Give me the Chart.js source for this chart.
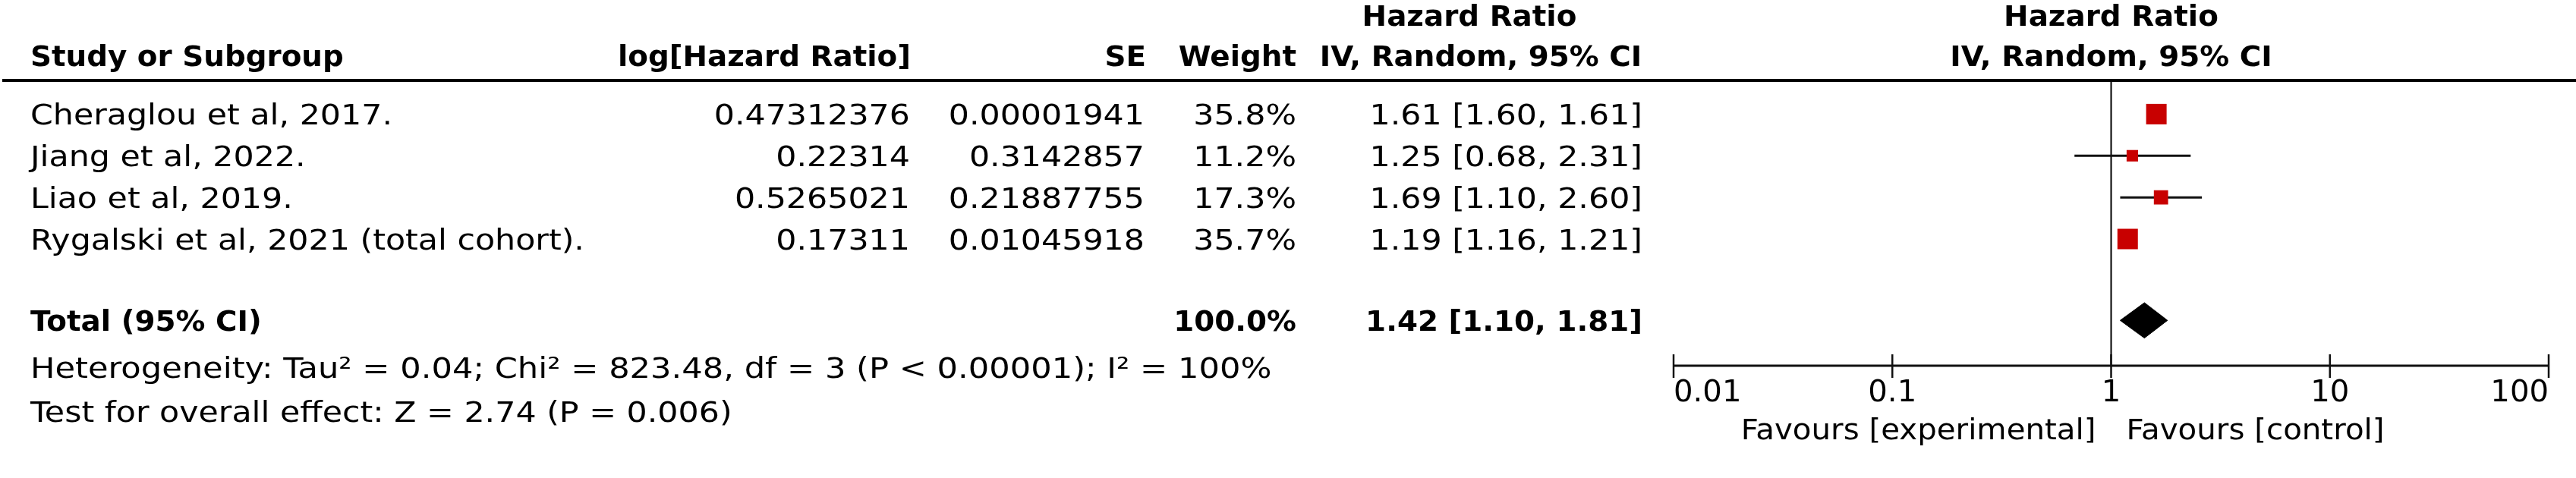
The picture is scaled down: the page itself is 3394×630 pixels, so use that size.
<!DOCTYPE html>
<html>
<head>
<meta charset="utf-8">
<script src="https://cdn.jsdelivr.net/npm/chart.js@4.4.1/dist/chart.umd.min.js"></script>
<style>
  html, body { margin: 0; padding: 0; background: #ffffff; }
  #wrap { width: 3394px; height: 630px; }
  canvas { display: block; }
</style>
</head>
<body>
<div id="wrap"><canvas id="c" width="3394" height="630"></canvas></div>
<script>
// ---------------- DATA ----------------
const studies = ['Cheraglou et al, 2017.', 'Jiang et al, 2022.', 'Liao et al, 2019.', 'Rygalski et al, 2021 (total cohort).'];
const logHR = ['0.47312376', '0.22314', '0.5265021', '0.17311'];
const seVals = ['0.00001941', '0.3142857', '0.21887755', '0.01045918'];
const weights = [35.8, 11.2, 17.3, 35.7];
const hr = [1.61, 1.25, 1.69, 1.19];
const ciLow = [1.60, 0.68, 1.10, 1.16];
const ciHigh = [1.61, 2.31, 2.60, 1.21];
const totalWeight = 100.0;
const totalHR = 1.42;
const totalLow = 1.10;
const totalHigh = 1.81;
const tickValues = [0.01, 0.1, 1, 10, 100];
const tickLabels = ['0.01', '0.1', '1', '10', '100'];
const heterogeneityText = 'Heterogeneity: Tau\u00B2 = 0.04; Chi\u00B2 = 823.48, df = 3 (P < 0.00001); I\u00B2 = 100%';
const overallText = 'Test for overall effect: Z = 2.74 (P = 0.006)';
const favoursLeft = 'Favours [experimental]';
const favoursRight = 'Favours [control]';

// ---------------- STYLE / LAYOUT CONSTANTS ----------------
const FONT = '"DejaVu Sans", Verdana, sans-serif';
const RED = '#C80000';
const MAX_SQ = 27;          // side of the largest square (px)
const TOTAL_ROW = 4.955;    // row index of the pooled estimate
const DIAMOND_HALF = 0.425; // half height of diamond in row units
const HEADER_LINE_Y = 106;
const AXIS_Y = 482;
const maxW = Math.max(...weights);

function fmt2(v) { return v.toFixed(2); }

const ciDatasets = studies.map((s, i) => ({
  label: 'ci' + i,
  data: [{ x: ciLow[i], y: i }, { x: ciHigh[i], y: i }],
  showLine: true,
  borderColor: '#111111',
  borderWidth: 3,
  pointRadius: 0,
  order: 2
}));

const squareDataset = {
  label: 'estimates',
  data: hr.map((v, i) => ({ x: v, y: i })),
  pointStyle: 'rect',
  pointRadius: weights.map(w => MAX_SQ * Math.sqrt(w / maxW) / Math.SQRT2),
  pointBackgroundColor: RED,
  pointBorderWidth: 0,
  showLine: false,
  order: 0
};

const diamondDataset = {
  label: 'total',
  data: [
    { x: totalLow, y: TOTAL_ROW },
    { x: totalHR, y: TOTAL_ROW - DIAMOND_HALF },
    { x: totalHigh, y: TOTAL_ROW },
    { x: totalHR, y: TOTAL_ROW + DIAMOND_HALF },
    { x: totalLow, y: TOTAL_ROW }
  ],
  showLine: true,
  fill: 'shape',
  backgroundColor: '#000000',
  borderColor: '#000000',
  borderWidth: 1,
  pointRadius: 0,
  tension: 0,
  order: 1
};

function txt(ctx, s, x, y, opts) {
  const o = Object.assign({ align: 'left', bold: false, size: 37, k: null }, opts || {});
  const k = o.k != null ? o.k : (o.bold ? 1.05 : 1.155);
  ctx.save();
  ctx.font = (o.bold ? 'bold ' : '') + o.size + 'px ' + FONT;
  ctx.fillStyle = '#000000';
  ctx.textAlign = o.align;
  ctx.textBaseline = 'middle';
  ctx.translate(x, y);
  ctx.scale(k, 1);
  ctx.fillText(s, 0, 0);
  ctx.restore();
}

const forestPlugin = {
  id: 'forest',
  beforeDatasetsDraw(chart) {
    const ctx = chart.ctx;
    const xs = chart.scales.x;
    const x1 = xs.getPixelForValue(1);
    ctx.save();
    ctx.strokeStyle = '#000000';
    ctx.lineWidth = 2;
    ctx.beginPath();
    ctx.moveTo(x1, HEADER_LINE_Y);
    ctx.lineTo(x1, AXIS_Y);
    ctx.stroke();
    ctx.restore();
  },
  afterDatasetsDraw(chart) {
    const ctx = chart.ctx;
    const xs = chart.scales.x;
    const ys = chart.scales.y;

    // header rule
    ctx.save();
    ctx.fillStyle = '#000000';
    ctx.fillRect(3, HEADER_LINE_Y - 2, 3394 - 3, 4);
    ctx.restore();

    // headers
    const x1 = xs.getPixelForValue(1);
    txt(ctx, 'Hazard Ratio', 1936, 24, { align: 'center', bold: true });
    txt(ctx, 'Hazard Ratio', x1, 24, { align: 'center', bold: true });
    txt(ctx, 'Study or Subgroup', 40, 77, { bold: true });
    txt(ctx, 'log[Hazard Ratio]', 1200, 77, { align: 'right', bold: true });
    txt(ctx, 'SE', 1510, 77, { align: 'right', bold: true });
    txt(ctx, 'Weight', 1708, 77, { align: 'right', bold: true });
    txt(ctx, 'IV, Random, 95% CI', 1951, 77, { align: 'center', bold: true });
    txt(ctx, 'IV, Random, 95% CI', x1, 77, { align: 'center', bold: true });

    // study rows
    studies.forEach((s, i) => {
      const y = ys.getPixelForValue(i) + 4;
      txt(ctx, s, 40, y);
      txt(ctx, logHR[i], 1199, y, { align: 'right' });
      txt(ctx, seVals[i], 1508, y, { align: 'right' });
      txt(ctx, weights[i].toFixed(1) + '%', 1708, y, { align: 'right' });
      txt(ctx, fmt2(hr[i]) + ' [' + fmt2(ciLow[i]) + ', ' + fmt2(ciHigh[i]) + ']', 2164, y, { align: 'right' });
    });

    // total row
    const yt = ys.getPixelForValue(TOTAL_ROW) + 4;
    txt(ctx, 'Total (95% CI)', 40, yt, { bold: true });
    txt(ctx, totalWeight.toFixed(1) + '%', 1708, yt, { align: 'right', bold: true });
    txt(ctx, fmt2(totalHR) + ' [' + fmt2(totalLow) + ', ' + fmt2(totalHigh) + ']', 2164, yt, { align: 'right', bold: true });

    txt(ctx, heterogeneityText, 40, 488, { k: 1.167 });
    txt(ctx, overallText, 40, 546);

    // axis
    const xa = xs.getPixelForValue(tickValues[0]);
    const xb = xs.getPixelForValue(tickValues[tickValues.length - 1]);
    ctx.save();
    ctx.strokeStyle = '#111111';
    ctx.lineWidth = 3;
    ctx.beginPath();
    ctx.moveTo(xa, AXIS_Y);
    ctx.lineTo(xb, AXIS_Y);
    ctx.stroke();
    ctx.lineWidth = 2.5;
    tickValues.forEach(v => {
      const px = xs.getPixelForValue(v);
      ctx.beginPath();
      ctx.moveTo(px, AXIS_Y - 15);
      ctx.lineTo(px, AXIS_Y + 16);
      ctx.stroke();
    });
    ctx.restore();
    tickValues.forEach((v, i) => {
      const px = xs.getPixelForValue(v);
      const align = i === 0 ? 'left' : (i === tickValues.length - 1 ? 'right' : 'center');
      txt(ctx, tickLabels[i], px, 519, { align: align, size: 39, k: 1.03 });
    });
    txt(ctx, favoursLeft, x1 - 20, 569, { align: 'right', size: 37, k: 1.09 });
    txt(ctx, favoursRight, x1 + 20, 569, { align: 'left', size: 37, k: 1.09 });
  }
};

new Chart(document.getElementById('c'), {
  type: 'scatter',
  data: { datasets: [squareDataset, diamondDataset, ...ciDatasets] },
  options: {
    responsive: false,
    animation: false,
    devicePixelRatio: 1,
    layout: { padding: { left: 2205, right: 36, top: 2, bottom: 6 } },
    scales: {
      x: { type: 'logarithmic', min: 0.01, max: 100, display: false },
      y: { type: 'linear', min: -2.393, max: 8.393, reverse: true, display: false }
    },
    plugins: { legend: { display: false }, tooltip: { enabled: false } },
    events: []
  },
  plugins: [forestPlugin]
});
</script>
</body>
</html>
